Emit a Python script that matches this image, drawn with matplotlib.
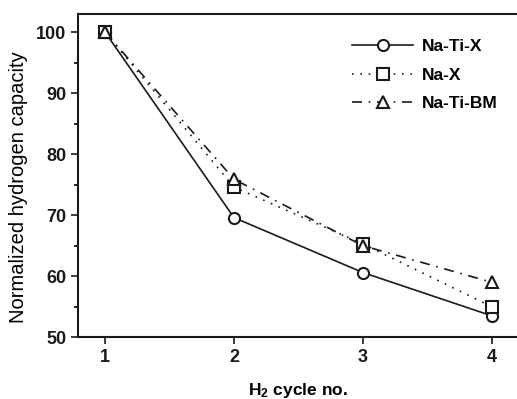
import matplotlib
matplotlib.use("Agg")
import matplotlib.pyplot as plt
from matplotlib.ticker import MultipleLocator

plt.rcParams['font.family'] = ['Liberation Sans', 'DejaVu Sans']
plt.rcParams['font.weight'] = 'bold'
plt.rcParams['mathtext.fontset'] = 'custom'
plt.rcParams['mathtext.rm'] = 'Liberation Sans:bold'
plt.rcParams['mathtext.bf'] = 'Liberation Sans:bold'
plt.rcParams['mathtext.default'] = 'bf'

cycles = [1, 2, 3, 4]
na_ti_x = [100, 69.6, 60.6, 53.5]
na_x = [100, 74.6, 65.3, 55.0]
na_ti_bm = [100, 75.9, 65.0, 59.0]

fig = plt.figure(figsize=(5.17, 3.99), dpi=100)
ax = fig.add_axes([0.151, 0.155, 0.85, 0.81])

mk = dict(markersize=8, markerfacecolor='white', markeredgecolor='#1a1a1a',
          markeredgewidth=1.5, color='#1a1a1a', linewidth=1.2)
ax.plot(cycles, na_ti_x, '-', marker='o', label='Na-Ti-X', **mk)
ax.plot(cycles, na_x, linestyle=(0, (1, 4)), marker='s', label='Na-X', **mk)
ax.plot(cycles, na_ti_bm, linestyle=(0, (6, 4, 1, 4)), marker='^', label='Na-Ti-BM', **mk)

ax.set_xlim(0.79, 4.2)
ax.set_ylim(50, 103)
ax.set_xticks(cycles)
ax.yaxis.set_major_locator(MultipleLocator(10))
ax.yaxis.set_minor_locator(MultipleLocator(5))
ax.tick_params(axis='both', which='major', direction='out', length=5, width=1.2,
               labelsize=13, colors='#1a1a1a')
ax.tick_params(axis='y', which='minor', direction='out', length=3, width=1.2)
ax.spines['right'].set_visible(False)
for s in ['left', 'bottom', 'top']:
    ax.spines[s].set_linewidth(1.5)
    ax.spines[s].set_color('#1a1a1a')

ax.set_xlabel('H$_2$ cycle no.', fontsize=12.5, fontweight='bold')
ax.xaxis.set_label_coords(0.5, -0.135)
ax.set_ylabel('Normalized hydrogen capacity', fontsize=14.5, fontweight='normal')
ax.yaxis.set_label_coords(-0.115, 0.465)

leg = ax.legend(loc='upper right', bbox_to_anchor=(0.99, 0.97), frameon=False,
                fontsize=12.5, handlelength=3.5, handletextpad=0.5, labelspacing=0.75)

fig.savefig('out.png', dpi=100)
